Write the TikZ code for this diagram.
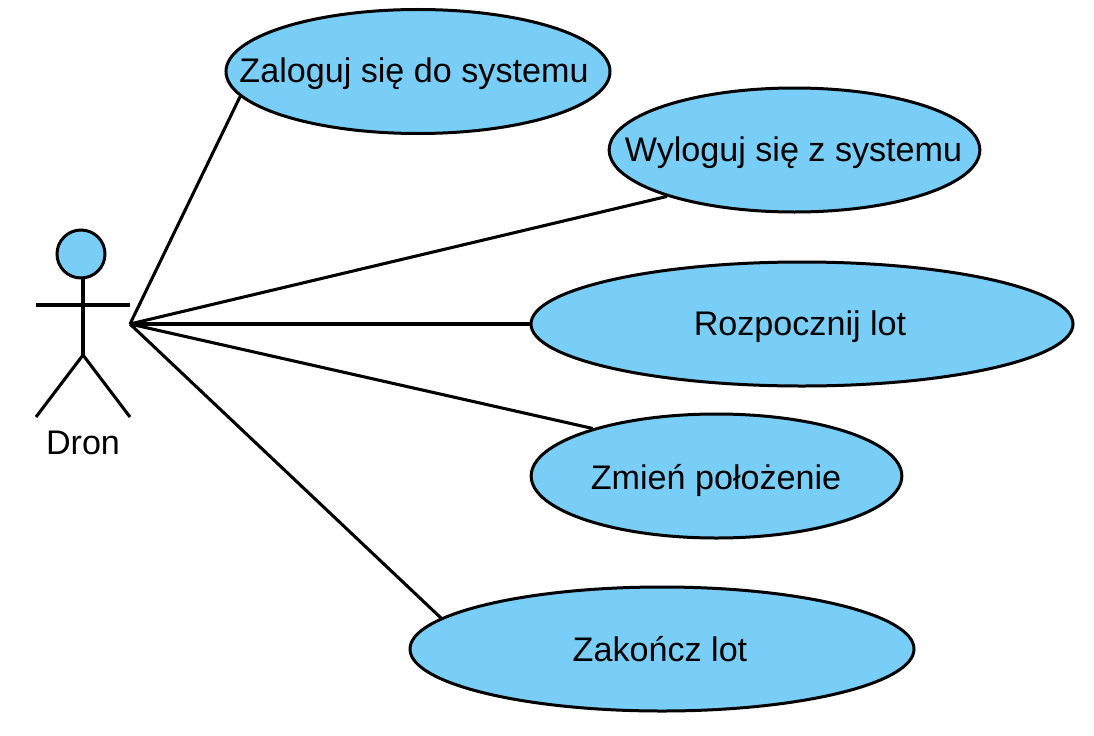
\documentclass[tikz,border=0pt]{standalone}
\usepackage{fontspec}
\setmainfont{Liberation Sans}
\usepackage{xcolor}
\usepackage{tikz}
\usetikzlibrary{shapes.geometric}
\definecolor{usecaseblue}{RGB}{121, 206, 247}
\tikzset{
  usecase/.style={ellipse, draw=black, fill=usecaseblue, line width=2.25pt, inner sep=0pt, minimum height=93pt},
  usetext/.style={inner sep=0pt, font=\fontsize{25.6}{30}\selectfont},
  assoc/.style={draw=black, line width=2.3pt},
  actorbody/.style={draw=black, line width=3pt},
}

\begin{document}
\begin{tikzpicture}[x=0.75pt,y=-0.75pt]
\useasboundingbox (0,0) rectangle (1094,735);
\fill[white] (0,0) rectangle (1094,735);
% actor
\coordinate (neck) at (83,270);
\coordinate (hip) at (83,355);
\coordinate (armL) at (36,305);
\coordinate (armR) at (130,305);
\coordinate (footL) at (36,417);
\coordinate (footR) at (130,417);
\draw[actorbody] (neck) -- (hip);
\draw[actorbody] (armL) -- (armR);
\draw[assoc] (footL) -- (hip) -- (footR);
\node[circle, draw=black, fill=usecaseblue, line width=2.25pt, minimum size=36pt, inner sep=0pt] (head) at (81,254) {};
\node[usetext] (dron) at (83,443) {Dron};
% use cases
\node[usecase, minimum width=288pt] (zaloguj) at (418,71.5) {};
\node[usecase, minimum width=278pt] (wyloguj) at (794.5,150) {};
\node[usecase, minimum width=406.5pt] (rozpocznij) at (802,324) {};
\node[usecase, minimum width=278pt] (zmien) at (716.5,476) {};
\node[usecase, minimum width=378pt] (zakoncz) at (662,649) {};
\node[usetext] (zalogujText) at (414,74) {Zaloguj się do systemu};
\node[usetext] (wylogujText) at (793.5,152.5) {Wyloguj się z systemu};
\node[usetext] (rozpocznijText) at (800,327) {Rozpocznij lot};
\node[usetext] (zmienText) at (716,480) {Zmień położenie};
\node[usetext] (zakonczText) at (660,649) {Zakończ lot};
% associations
\coordinate (hub) at (130,324);
\draw[assoc] (hub) -- (zaloguj.188.8);
\draw[assoc] (hub) -- (wyloguj.200.8);
\draw[actorbody] (hub) -- (rozpocznij.west);
\draw[assoc] (hub) -- (zmien.159);
\draw[assoc] (hub) -- (zakoncz.172);
\end{tikzpicture}
\end{document}
